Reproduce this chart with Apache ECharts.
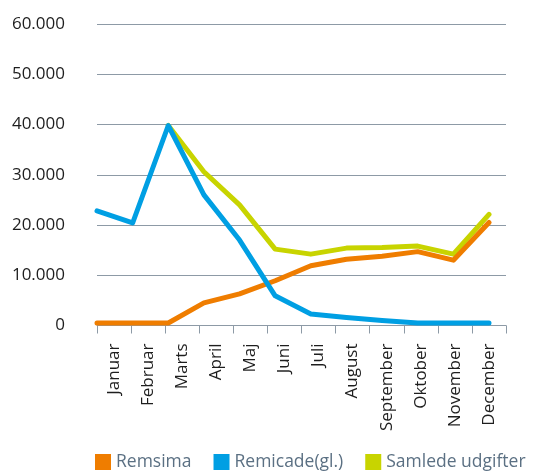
<!DOCTYPE html>
<html><head><meta charset="utf-8">
<script src="https://cdn.jsdelivr.net/npm/echarts@6/dist/echarts.min.js"></script>
<style>html,body{margin:0;padding:0;background:#fff}#c{width:533px;height:473px}</style>
</head><body><div id="c"></div>
<script>
var months = ["Januar","Februar","Marts","April","Maj","Juni","Juli","August","September","Oktober","November","December"];
var remsima = [500,500,500,4500,6300,8900,11900,13200,13800,14700,13000,20500];
var remicade = [22800,20400,39800,26000,17000,5900,2300,1600,1000,500,500,500];
var samlede = [null,null,39800,30600,24000,15200,14200,15400,15500,15800,14200,22100];
var yTicks = [0,10000,20000,30000,40000,50000,60000];

var FONT = "Open Sans";
var chart = echarts.init(document.getElementById('c'), null, {renderer:'canvas'});
function fmt(v){ return v===0 ? '0' : String(v).replace(/\B(?=(\d{3})+(?!\d))/g,'.'); }
var gridColor = '#8d9aa6';
chart.setOption({
  animation:false,
  textStyle:{fontFamily:FONT},
  grid:[
    {left:97, right:27, top:24, bottom:147.5},
    {left:97, right:44, top:24, bottom:147.5}
  ],
  xAxis:[
    {type:'category', gridIndex:0, data:months, boundaryGap:true,
     axisLine:{lineStyle:{color:gridColor,width:1}},
     axisTick:{show:true,length:8,lineStyle:{color:gridColor}},
     axisLabel:{rotate:90, margin:18, color:'#1e1e1e', fontSize:17, fontFamily:FONT}},
    {type:'category', gridIndex:1, data:months, boundaryGap:false, show:false}
  ],
  yAxis:[
    {type:'value', gridIndex:0, min:yTicks[0], max:yTicks[yTicks.length-1], interval:10000,
     axisLine:{show:false}, axisTick:{show:false},
     axisLabel:{margin:32, color:'#1e1e1e', fontSize:17, fontFamily:FONT, formatter:fmt},
     splitLine:{lineStyle:{color:gridColor,width:1}}},
    {type:'value', gridIndex:1, min:yTicks[0], max:yTicks[yTicks.length-1], show:false, splitLine:{show:false}}
  ],
  legend:{left:90, top:448, itemWidth:16, itemHeight:16, itemGap:22, icon:'rect',
    textStyle:{color:'#5b7083', fontSize:17.5, fontFamily:FONT},
    data:['Remsima','Remicade(gl.)','Samlede udgifter']},
  series:[
    {name:'Remsima', type:'line', xAxisIndex:1, yAxisIndex:1, data:remsima, showSymbol:false, z:3,
     itemStyle:{color:'#ef7d00'}, lineStyle:{width:5,color:'#ef7d00',cap:'round',join:'round'}},
    {name:'Remicade(gl.)', type:'line', xAxisIndex:1, yAxisIndex:1, data:remicade, showSymbol:false, z:4,
     itemStyle:{color:'#009fe3'}, lineStyle:{width:5,color:'#009fe3',cap:'round',join:'round'}},
    {name:'Samlede udgifter', type:'line', xAxisIndex:1, yAxisIndex:1, data:samlede, showSymbol:false, z:2,
     itemStyle:{color:'#c8d400'}, lineStyle:{width:5,color:'#c8d400',cap:'round',join:'round'}}
  ]
});
</script></body></html>
